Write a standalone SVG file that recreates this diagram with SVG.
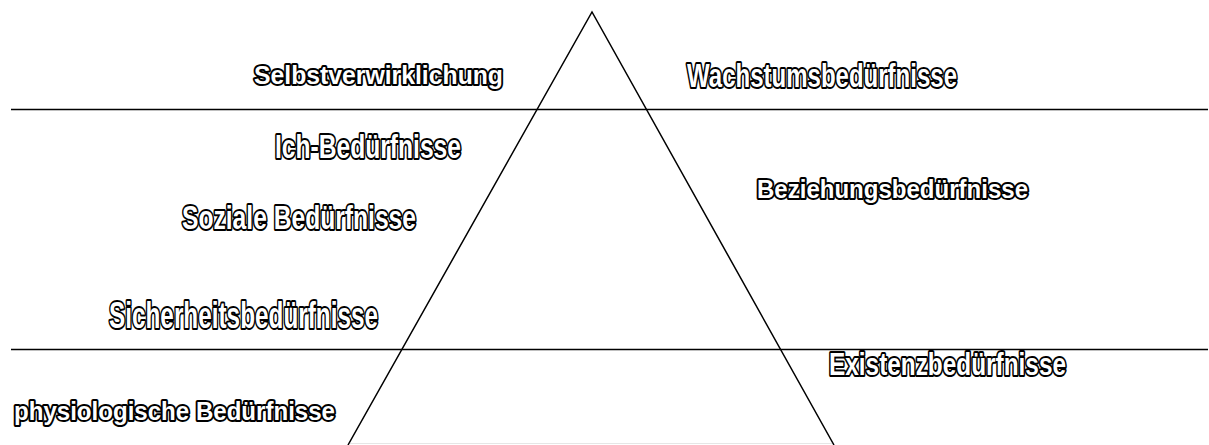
<svg xmlns="http://www.w3.org/2000/svg" width="1209" height="445" viewBox="0 0 1209 445">
<style>
.lbl{font-family:"Liberation Sans",Arial,sans-serif;font-weight:bold;fill:#fff;stroke:#000;stroke-width:4;stroke-linejoin:round;paint-order:stroke}
.ln{stroke:#000;stroke-width:1.5;fill:none}
</style>
<rect width="1209" height="445" fill="#fff"/>
<g id="connectors">
<line class="ln" x1="11" y1="109.5" x2="1208" y2="109.5"/>
<line class="ln" x1="11" y1="349.5" x2="1208" y2="349.5"/>
<line x1="350" y1="443.5" x2="832" y2="443.5" stroke="#e6e6e6" stroke-width="1"/>
<polyline class="ln" points="348,445 592,12 834,445"/>
</g>
<g id="selbstverwirklichung"><text class="lbl" x="254" y="84" font-size="26" textLength="249" lengthAdjust="spacingAndGlyphs">Selbstverwirklichung</text></g>
<g id="wachstum"><text class="lbl" x="687" y="87" font-size="33" textLength="270" lengthAdjust="spacingAndGlyphs">Wachstumsbedürfnisse</text></g>
<g id="ich"><text class="lbl" x="275" y="158" font-size="33" textLength="186" lengthAdjust="spacingAndGlyphs">Ich-Bedürfnisse</text></g>
<g id="soziale"><text class="lbl" x="182" y="229" font-size="34" textLength="234" lengthAdjust="spacingAndGlyphs">Soziale Bedürfnisse</text></g>
<g id="beziehung"><text class="lbl" x="757" y="198" font-size="25" textLength="271" lengthAdjust="spacingAndGlyphs">Beziehungsbedürfnisse</text></g>
<g id="sicherheit"><text class="lbl" x="109" y="328" font-size="37" textLength="269" lengthAdjust="spacingAndGlyphs">Sicherheitsbedürfnisse</text></g>
<g id="existenz"><text class="lbl" x="829" y="375" font-size="32" textLength="237" lengthAdjust="spacingAndGlyphs">Existenzbedürfnisse</text></g>
<g id="physiologisch"><text class="lbl" x="14" y="420" font-size="25" textLength="321" lengthAdjust="spacingAndGlyphs">physiologische Bedürfnisse</text></g>
</svg>
